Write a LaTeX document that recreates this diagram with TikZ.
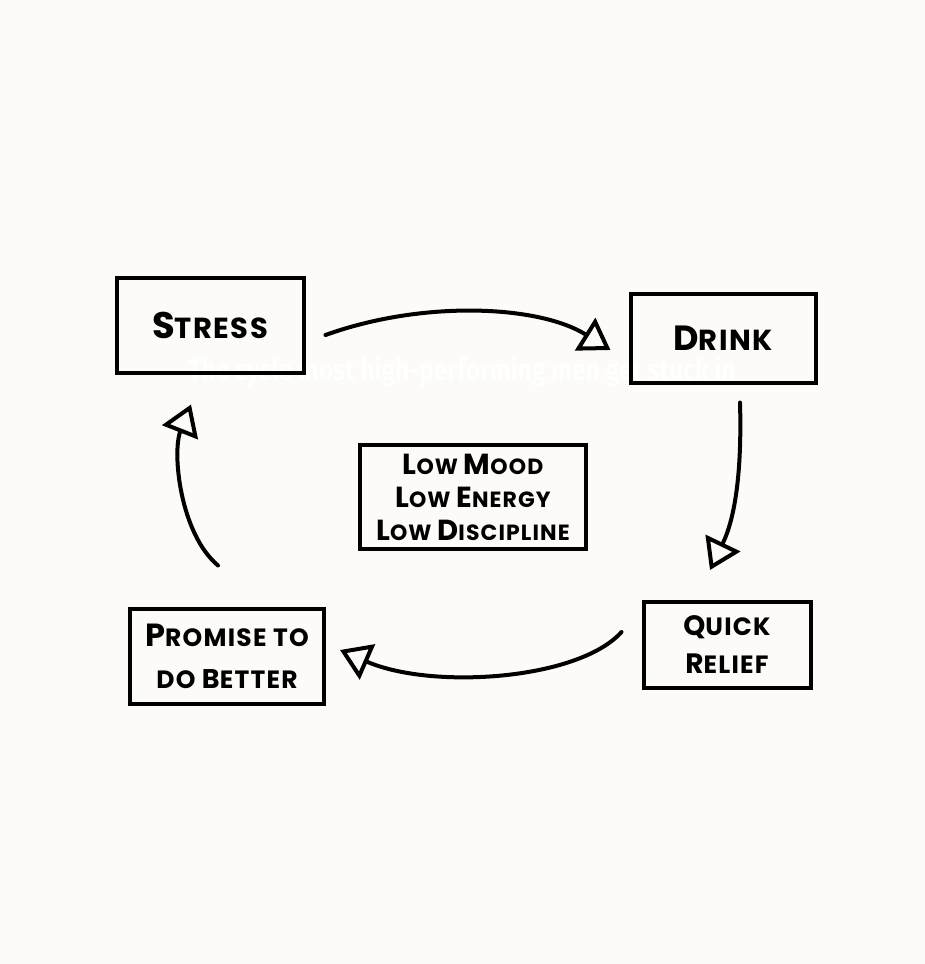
\documentclass[tikz,border=0pt]{standalone}
\usepackage{fontspec}
\setmainfont{Poppins}[LetterSpace=5]
\newfontfamily\titlefont{Fira Sans}
\usepackage{tikz}
\usetikzlibrary{arrows.meta}
\definecolor{paper}{RGB}{253,251,247}
\tikzstyle{stage} = [draw=black, line width=2pt, rectangle, align=center, inner sep=0pt, font=\bfseries]
\tikzstyle{flow} = [draw=black, line width=2pt, line cap=round, -{Triangle[open, length=15pt, width=19pt, line width=2pt]}]
\newcommand{\initial}[2]{{\fontsize{#1}{#1}\selectfont #2}}

\begin{document}
\begin{tikzpicture}[x=0.5pt, y=-0.5pt]
        \fill[paper] (0,0) rectangle (925,964);
        \useasboundingbox (0,0) rectangle (925,964);
        % faint title left in the background
        \node[white, xscale=0.82, font=\titlefont\bfseries\fontsize{15}{15}\selectfont] (title) at (462,372) {The cycle most high-performing men get stuck in};

        \node [stage, minimum width=93.5pt, minimum height=47.5pt, font=\bfseries\fontsize{14.5}{16}\selectfont] (stress) at (210,325) {\initial{18.5}{S}TRESS};
        \node [stage, minimum width=92.5pt, minimum height=44.5pt, font=\bfseries\fontsize{14.5}{16}\selectfont] (drink) at (723,338) {\initial{17.5}{D}RINK};
        \node [stage, minimum width=83.5pt, minimum height=43pt, font=\bfseries\fontsize{12.5}{19}\selectfont] (relief) at (727,645) {\initial{14}{Q}UICK\\\initial{14}{R}ELIEF};
        \node [stage, minimum width=97pt, minimum height=47.5pt, font=\bfseries\fontsize{12.5}{21}\selectfont] (promise) at (227,656) {\initial{16}{P}ROMISE TO\\DO \initial{13.5}{B}ETTER};
        \node [stage, minimum width=113pt, minimum height=52pt, font=\bfseries\fontsize{11}{16.5}\selectfont] (low) at (473,497) {\initial{14.5}{L}OW \initial{14.5}{M}OOD\\\initial{14.5}{L}OW \initial{14.5}{E}NERGY\\\initial{14.5}{L}OW \initial{14.5}{D}ISCIPLINE};

        % the loop
        \draw[flow] ([shift={(20,10)}]stress.east) .. controls +(97,-35) and +(-72,-45) .. ([shift={(-18,12)}]drink.west);
        \draw[flow] ([shift={(17,18)}]drink.south) .. controls +(2,70) and +(25,-52) .. ([shift={(-17,-30)}]relief.north);
        \draw[flow] ([shift={(-20,-13)}]relief.west) .. controls +(-43,48) and +(92,40) .. ([shift={(14,-6)}]promise.east);
        \draw[flow] ([shift={(-9,-41)}]promise.north) .. controls +(-38,-32) and +(-19,48) .. ([shift={(-19,30)}]stress.south);
    \end{tikzpicture}
\end{document}
